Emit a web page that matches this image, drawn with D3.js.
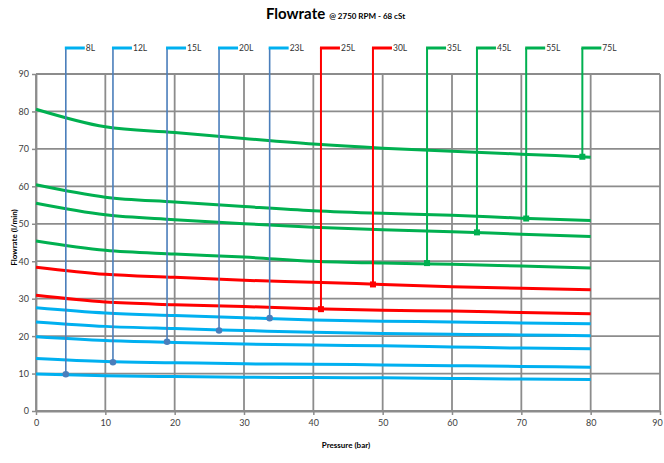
<!DOCTYPE html>
<html>
<head>
<meta charset="utf-8">
<script src="https://cdn.jsdelivr.net/npm/d3@7"></script>
<style>
  body { margin: 0; background: #fff; }
  text { font-family: Lato, "Open Sans", sans-serif; }
</style>
</head>
<body>
<div id="chart"></div>
<script>
// Data
var pressure = [0, 10, 20, 30, 40, 50, 60, 70, 80];
var seriesNames = ["8L", "12L", "15L", "20L", "23L", "25L", "30L", "35L", "45L", "55L", "75L"];
var flow8 = [9.9, 9.4, 9.2, 9.0, 8.95, 8.85, 8.7, 8.55, 8.4];
var flow12 = [14.0, 13.2, 12.9, 12.6, 12.5, 12.3, 12.1, 11.9, 11.7];
var flow15 = [19.8, 18.8, 18.3, 17.9, 17.6, 17.4, 17.1, 16.8, 16.6];
var flow20 = [23.8, 22.6, 22.0, 21.5, 21.0, 20.7, 20.5, 20.3, 20.1];
var flow23 = [27.6, 26.2, 25.5, 24.9, 24.3, 24.0, 23.8, 23.5, 23.3];
var flow25 = [30.9, 29.1, 28.4, 27.9, 27.3, 26.9, 26.7, 26.3, 26.0];
var flow30 = [38.4, 36.5, 35.7, 34.9, 34.4, 33.8, 33.2, 32.8, 32.4];
var flow35 = [45.4, 42.9, 41.9, 41.1, 40.0, 39.5, 39.2, 38.7, 38.2];
var flow45 = [55.5, 52.4, 51.1, 50.0, 49.1, 48.4, 47.9, 47.2, 46.6];
var flow55 = [60.4, 57.1, 55.8, 54.6, 53.5, 52.8, 52.3, 51.5, 50.9];
var flow75 = [80.6, 75.9, 74.4, 72.8, 71.3, 70.2, 69.4, 68.6, 67.8];
var markerPressure = [4.3, 11.1, 18.9, 26.4, 33.7, 41.1, 48.6, 56.4, 63.6, 70.7, 78.8];
var markerFlow = [9.8, 13.0, 18.5, 21.5, 24.8, 27.2, 33.8, 39.5, 47.7, 51.4, 67.9];
var seriesGroup = ["blue", "blue", "blue", "blue", "blue", "red", "red", "green", "green", "green", "green"];
var xTicks = [0, 10, 20, 30, 40, 50, 60, 70, 80, 90];
var yTicks = [0, 10, 20, 30, 40, 50, 60, 70, 80, 90];

var allFlows = [flow8, flow12, flow15, flow20, flow23, flow25, flow30, flow35, flow45, flow55, flow75];

// Colours for each group
var lineColor = { blue: "#00b0f0", red: "#ff0000", green: "#00b050" };
var leaderColor = { blue: "#4a7ebb", red: "#ff0000", green: "#00b050" };

var svgWidth = 664;
var svgHeight = 463;
var margin = { top: 74, right: 4, bottom: 52, left: 36 };
var chartWidth = svgWidth - margin.left - margin.right;
var chartHeight = svgHeight - margin.top - margin.bottom;

var svg = d3.select("#chart")
    .append("svg")
    .attr("width", svgWidth)
    .attr("height", svgHeight);

var chartGroup = svg.append("g")
    .attr("transform", `translate(${margin.left}, ${margin.top})`);

var xScale = d3.scaleLinear().domain([0, 90]).range([0, chartWidth]);
var yScale = d3.scaleLinear().domain([0, 90]).range([chartHeight, 0]);

// Gridlines
chartGroup.append("g")
    .selectAll("line")
    .data(yTicks)
    .enter()
    .append("line")
    .attr("x1", 0)
    .attr("x2", chartWidth)
    .attr("y1", d => yScale(d))
    .attr("y2", d => yScale(d))
    .attr("stroke", "#8c8c8c")
    .attr("stroke-width", 1.8);

chartGroup.append("g")
    .selectAll("line")
    .data(xTicks)
    .enter()
    .append("line")
    .attr("y1", 0)
    .attr("y2", chartHeight)
    .attr("x1", d => xScale(d))
    .attr("x2", d => xScale(d))
    .attr("stroke", "#8c8c8c")
    .attr("stroke-width", 1.8);

// Axes
var bottomAxis = d3.axisBottom(xScale).tickValues(xTicks).tickSize(4).tickSizeOuter(0);
var leftAxis = d3.axisLeft(yScale).tickValues(yTicks).tickSize(4).tickSizeOuter(0);

var xAxisG = chartGroup.append("g")
    .attr("transform", `translate(0, ${chartHeight})`)
    .call(bottomAxis);
var yAxisG = chartGroup.append("g").call(leftAxis);

[xAxisG, yAxisG].forEach(function (g) {
    g.select(".domain").attr("stroke", "#8c8c8c").attr("stroke-width", 1.8);
    g.selectAll(".tick line").attr("stroke", "#8c8c8c").attr("stroke-width", 1.5);
    g.selectAll(".tick text")
        .attr("fill", "#404040")
        .style("font-size", "9px");
});
xAxisG.selectAll(".tick text").attr("dy", "0.9em");
// keep the last label inside the window
xAxisG.selectAll(".tick text").filter(d => d === 90).attr("dx", -3);

// Curves
var line = d3.line()
    .x((d, i) => xScale(pressure[i]))
    .y(d => yScale(d))
    .curve(d3.curveMonotoneX);

chartGroup.append("g")
    .selectAll("path")
    .data(allFlows)
    .enter()
    .append("path")
    .attr("d", d => line(d))
    .attr("fill", "none")
    .attr("stroke", (d, i) => lineColor[seriesGroup[i]])
    .attr("stroke-width", 3);

// Leader lines from marker up to label
var leaderTop = -26;
var leaders = chartGroup.append("g")
    .selectAll("g")
    .data(seriesNames)
    .enter()
    .append("g");

leaders.append("line")
    .attr("x1", (d, i) => xScale(markerPressure[i]))
    .attr("x2", (d, i) => xScale(markerPressure[i]))
    .attr("y1", (d, i) => yScale(markerFlow[i]))
    .attr("y2", leaderTop)
    .attr("stroke", (d, i) => leaderColor[seriesGroup[i]])
    .attr("stroke-width", (d, i) => seriesGroup[i] === "blue" ? 1.6 : 2);

leaders.append("line")
    .attr("x1", (d, i) => xScale(markerPressure[i]) - 1)
    .attr("x2", (d, i) => xScale(markerPressure[i]) + 19)
    .attr("y1", leaderTop)
    .attr("y2", leaderTop)
    .attr("stroke", (d, i) => lineColor[seriesGroup[i]])
    .attr("stroke-width", 3);

leaders.append("text")
    .attr("x", (d, i) => xScale(markerPressure[i]) + 20)
    .attr("y", leaderTop)
    .attr("dy", "0.35em")
    .attr("fill", "#333")
    .style("font-size", "8.5px")
    .text(d => d);

// Markers
leaders.filter((d, i) => seriesGroup[i] === "blue")
    .append("circle")
    .attr("cx", d => xScale(markerPressure[seriesNames.indexOf(d)]))
    .attr("cy", d => yScale(markerFlow[seriesNames.indexOf(d)]))
    .attr("r", 3.3)
    .attr("fill", "#4a7ebb");

leaders.filter((d, i) => seriesGroup[i] !== "blue")
    .append("rect")
    .attr("x", d => xScale(markerPressure[seriesNames.indexOf(d)]) - 3)
    .attr("y", d => yScale(markerFlow[seriesNames.indexOf(d)]) - 3)
    .attr("width", 6)
    .attr("height", 6)
    .attr("fill", d => leaderColor[seriesGroup[seriesNames.indexOf(d)]]);

// Title
var title = svg.append("text")
    .attr("x", 266)
    .attr("y", 19)
    .attr("fill", "#000")
    .style("font-weight", "bold");
title.append("tspan").style("font-size", "15px").text("Flowrate");
title.append("tspan").style("font-size", "8px").attr("dx", 4).text("@ 2750 RPM - 68 cSt");

// Axis labels
svg.append("text")
    .attr("transform", `translate(14, ${margin.top + chartHeight / 2 - 5}) rotate(-90)`)
    .attr("text-anchor", "middle")
    .attr("dy", "0.35em")
    .style("font-size", "8px")
    .style("font-weight", "bold")
    .text("Flowrate (l/min)");

svg.append("text")
    .attr("x", margin.left + chartWidth / 2 - 2)
    .attr("y", 448)
    .attr("text-anchor", "middle")
    .style("font-size", "8px")
    .style("font-weight", "bold")
    .text("Pressure (bar)");
</script>
</body>
</html>
